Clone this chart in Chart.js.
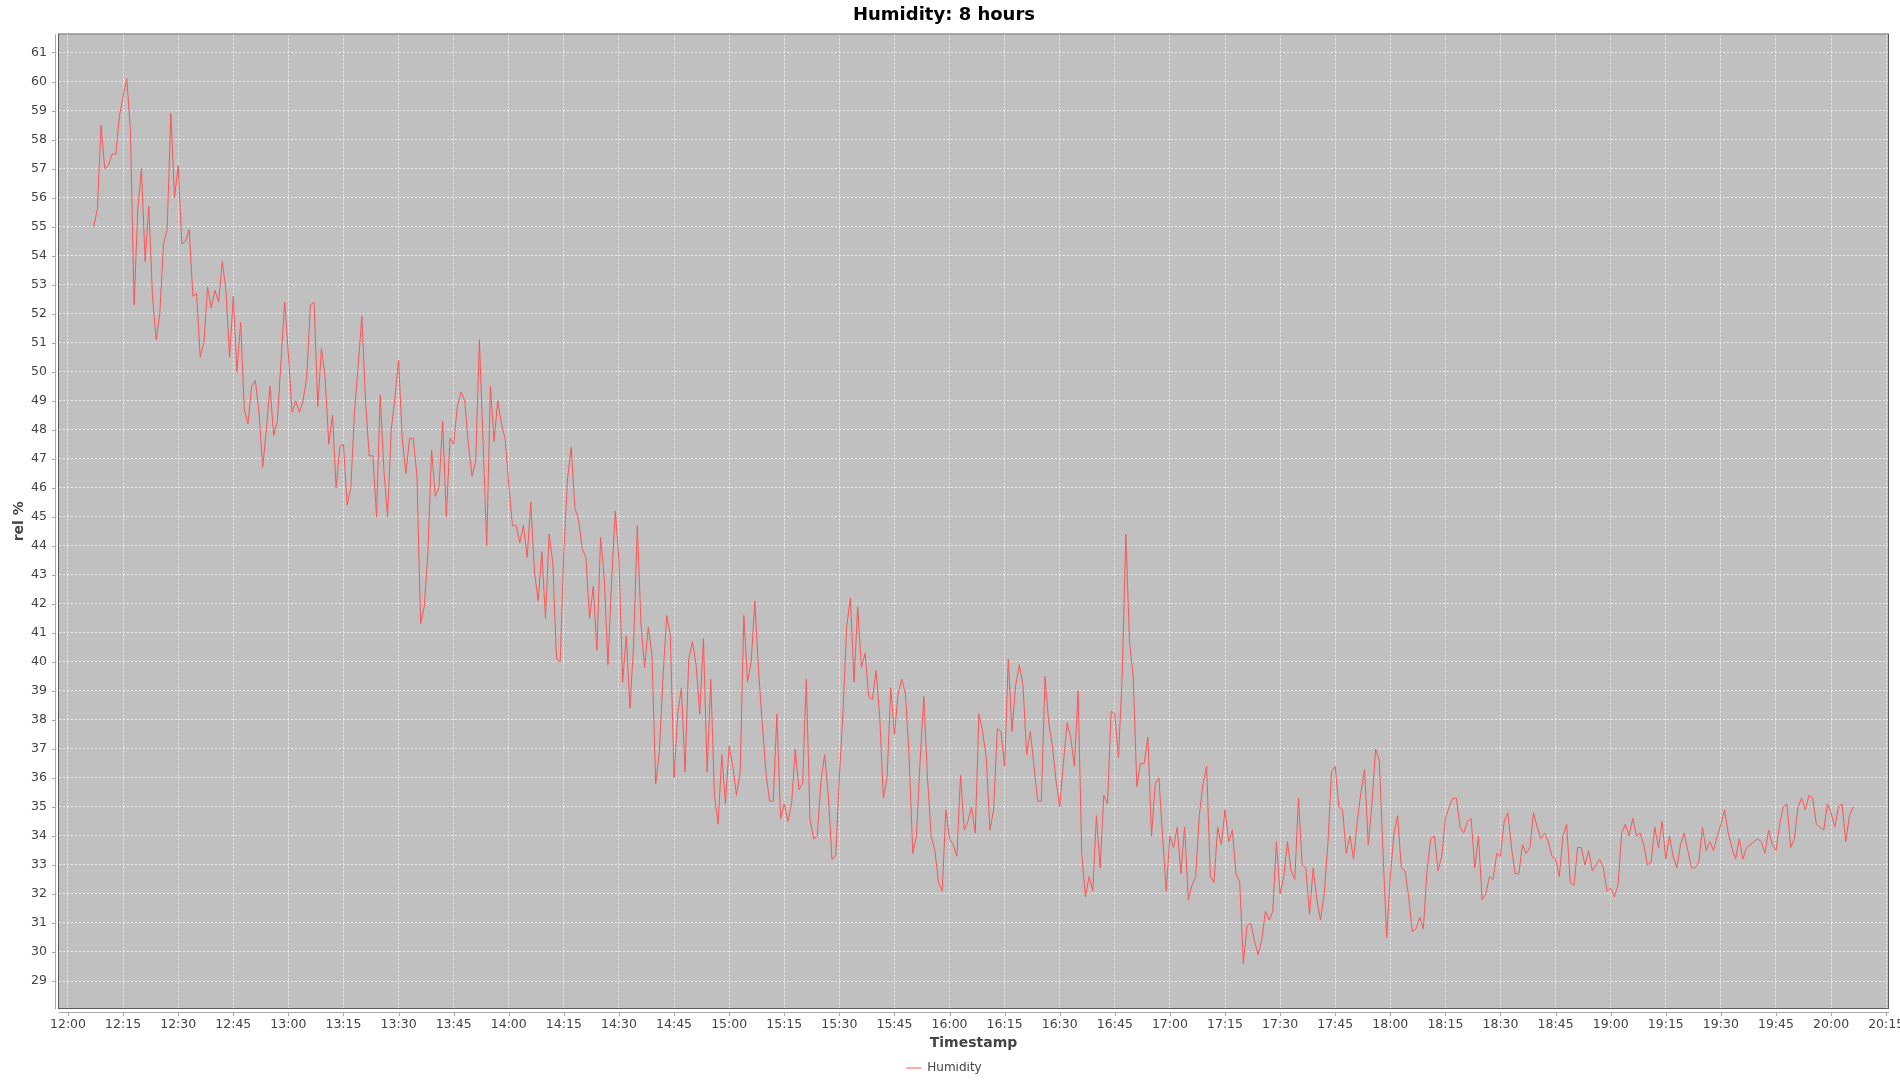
<!DOCTYPE html>
<html>
<head>
<meta charset="utf-8">
<title>Humidity: 8 hours</title>
<style>
  html, body { margin: 0; padding: 0; background: #ffffff; }
  #wrap { width: 1900px; height: 1080px; }
</style>
</head>
<body>
<div id="wrap"><canvas id="humChart" width="1900" height="1080"></canvas></div>

<script src="https://cdn.jsdelivr.net/npm/chart.js"></script>
<script>
  // samples are one minute apart, first one at 12:07
  const START_MINUTE = 7;

  const hum12 = [55.0, 55.6, 58.5, 57.0, 57.1, 57.5, 57.5, 58.8, 59.5, 60.1, 58.3, 52.3, 55.6, 57.0, 53.8, 55.7, 52.6, 51.1, 52.0, 54.4,
                 54.9, 58.9, 56.0, 57.1, 54.4, 54.5, 54.9, 52.6, 52.7, 50.5, 51.0, 52.9, 52.2, 52.8, 52.4, 53.8, 52.8, 50.5, 52.6, 50.0,
                 51.7, 48.7, 48.2, 49.5, 49.7, 48.6, 46.7, 48.0, 49.5, 47.8, 48.3, 50.4, 52.4];
  const hum13 = [50.6, 48.6, 49.0, 48.6, 49.0, 49.8, 52.3, 52.4, 48.8, 50.8, 49.8, 47.5, 48.5, 46.0, 47.4, 47.5, 45.4, 46.0, 48.6, 50.2,
                 51.9, 49.0, 47.1, 47.1, 45.0, 49.2, 46.6, 45.0, 48.0, 49.1, 50.4, 47.7, 46.5, 47.7, 47.7, 46.4, 41.3, 41.9, 43.8, 47.3,
                 45.7, 46.0, 48.3, 45.0, 47.7, 47.5, 48.8, 49.3, 49.0, 47.5, 46.4, 46.9, 51.1, 47.6, 44.0, 49.5, 47.6, 49.0, 48.2, 47.7];
  const hum14 = [46.1, 44.7, 44.7, 44.1, 44.7, 43.6, 45.5, 43.1, 42.1, 43.8, 41.5, 44.4, 43.4, 40.1, 40.0, 43.8, 46.3, 47.4, 45.3, 44.9,
                 43.9, 43.6, 41.5, 42.6, 40.4, 44.3, 42.9, 39.9, 42.8, 45.2, 43.5, 39.3, 40.9, 38.4, 40.6, 44.7, 41.3, 39.8, 41.2, 40.2,
                 35.8, 36.9, 39.5, 41.6, 40.9, 36.0, 38.2, 39.1, 36.2, 40.1, 40.7, 39.9, 38.2, 40.8, 36.2, 39.4, 35.4, 34.4, 36.8, 35.1];
  const hum15 = [37.1, 36.4, 35.4, 36.2, 41.6, 39.3, 40.0, 42.1, 39.7, 37.9, 36.2, 35.2, 35.2, 38.2, 34.6, 35.1, 34.5, 35.1, 37.0, 35.6,
                 35.8, 39.4, 34.6, 33.9, 34.0, 35.9, 36.8, 35.4, 33.2, 33.3, 36.0, 38.3, 41.2, 42.2, 39.3, 41.9, 39.8, 40.3, 38.8, 38.7,
                 39.7, 38.1, 35.3, 36.0, 39.1, 37.5, 38.9, 39.4, 38.9, 36.7, 33.4, 34.0, 36.6, 38.8, 36.0, 34.0, 33.5, 32.4, 32.1, 34.9];
  const hum16 = [33.9, 33.7, 33.3, 36.1, 34.2, 34.5, 35.0, 34.1, 38.2, 37.6, 36.7, 34.2, 34.9, 37.7, 37.6, 36.4, 40.1, 37.6, 39.2, 39.9,
                 39.2, 36.8, 37.6, 36.4, 35.2, 35.2, 39.5, 37.9, 37.1, 35.9, 35.0, 36.5, 37.9, 37.4, 36.4, 39.0, 33.4, 31.9, 32.6, 32.1,
                 34.7, 32.9, 35.4, 35.1, 38.3, 38.2, 36.7, 39.5, 44.4, 40.7, 39.5, 35.7, 36.5, 36.5, 37.4, 34.0, 35.8, 36.0, 34.0, 32.1];
  const hum17 = [34.0, 33.6, 34.3, 32.7, 34.3, 31.8, 32.3, 32.6, 34.7, 35.8, 36.4, 32.6, 32.4, 34.3, 33.7, 34.9, 33.8, 34.2, 32.7, 32.4,
                 29.6, 30.9, 31.0, 30.4, 29.9, 30.4, 31.4, 31.1, 31.4, 33.8, 32.0, 32.6, 33.8, 32.8, 32.5, 35.3, 33.0, 32.9, 31.3, 32.9,
                 31.8, 31.1, 32.0, 33.7, 36.2, 36.4, 35.0, 34.9, 33.4, 34.0, 33.2, 34.5, 35.5, 36.3, 33.7, 35.1, 37.0, 36.6, 33.5, 30.5];
  const hum18 = [32.6, 34.1, 34.7, 32.9, 32.8, 31.9, 30.7, 30.8, 31.2, 30.8, 32.8, 33.9, 34.0, 32.8, 33.3, 34.6, 35.0, 35.3, 35.3, 34.3,
                 34.1, 34.5, 34.6, 32.9, 34.0, 31.8, 32.0, 32.6, 32.5, 33.4, 33.3, 34.5, 34.8, 33.6, 32.7, 32.7, 33.7, 33.4, 33.6, 34.8,
                 34.3, 33.9, 34.1, 33.8, 33.3, 33.2, 32.6, 34.0, 34.4, 32.4, 32.3, 33.6, 33.6, 33.0, 33.5, 32.8, 33.0, 33.2, 32.9, 32.1];
  const hum19 = [32.2, 31.9, 32.3, 34.1, 34.4, 34.0, 34.6, 34.0, 34.1, 33.7, 33.0, 33.1, 34.3, 33.6, 34.5, 33.2, 34.0, 33.3, 32.9, 33.7,
                 34.1, 33.5, 32.9, 32.9, 33.1, 34.3, 33.5, 33.8, 33.5, 34.0, 34.4, 34.9, 34.1, 33.6, 33.2, 33.9, 33.2, 33.6, 33.7, 33.8,
                 33.9, 33.8, 33.4, 34.2, 33.7, 33.5, 34.4, 35.0, 35.1, 33.6, 33.9, 35.0, 35.3, 34.9, 35.4, 35.3, 34.4, 34.3, 34.2, 35.1];
  const hum20 = [34.8, 34.3, 35.0, 35.1, 33.8, 34.7, 35.0];

  const timeTicks = ['12:00', '12:15', '12:30', '12:45', '13:00', '13:15', '13:30', '13:45', '14:00', '14:15', '14:30', '14:45',
                     '15:00', '15:15', '15:30', '15:45', '16:00', '16:15', '16:30', '16:45', '17:00', '17:15', '17:30', '17:45',
                     '18:00', '18:15', '18:30', '18:45', '19:00', '19:15', '19:30', '19:45', '20:00', '20:15'];

  const humidity = [].concat(hum12, hum13, hum14, hum15, hum16, hum17, hum18, hum19, hum20);
  const points = humidity.map((v, i) => ({ x: START_MINUTE + i, y: v }));

  const FONT = 'DejaVu Sans';
  const AXIS_GREY = '#a8a8a8';

  // grey plot background, dark outline, axis lines set off from the plot like JFreeChart does
  const plotFrame = {
    id: 'plotFrame',
    beforeDraw(chart) {
      const { ctx, chartArea: a } = chart;
      ctx.save();
      ctx.fillStyle = '#c0c0c0';
      ctx.fillRect(a.left, a.top, a.right - a.left, a.bottom - a.top);
      ctx.restore();
    },
    afterDraw(chart) {
      const { ctx, chartArea: a } = chart;
      const xs = chart.scales.x, ys = chart.scales.y;
      ctx.save();
      ctx.lineWidth = 1;
      ctx.strokeStyle = '#5c5c5c';
      ctx.strokeRect(a.left - 0.5, a.top - 0.5, a.right - a.left + 1, a.bottom - a.top + 1);

      ctx.strokeStyle = AXIS_GREY;
      ctx.beginPath();
      ctx.moveTo(a.left - 3.5, a.top);
      ctx.lineTo(a.left - 3.5, a.bottom + 1);
      ctx.moveTo(a.left, a.bottom + 4.5);
      ctx.lineTo(a.right + 1, a.bottom + 4.5);
      ys.ticks.forEach(t => {
        const py = Math.round(ys.getPixelForValue(t.value)) + 0.5;
        ctx.moveTo(a.left - 7, py);
        ctx.lineTo(a.left - 3, py);
      });
      xs.ticks.forEach(t => {
        const px = Math.round(xs.getPixelForValue(t.value)) + 0.5;
        ctx.moveTo(px, a.bottom + 4);
        ctx.lineTo(px, a.bottom + 8);
      });
      ctx.stroke();
      ctx.restore();
    }
  };

  new Chart(document.getElementById('humChart'), {
    type: 'line',
    data: {
      datasets: [{
        label: 'Humidity',
        data: points,
        borderColor: '#ff5555',
        backgroundColor: '#ff5555',
        borderWidth: 1,
        pointRadius: 0,
        tension: 0,
        fill: false
      }]
    },
    options: {
      responsive: false,
      animation: false,
      layout: { padding: { left: 0, right: 12, top: 0, bottom: -4 } },
      scales: {
        x: {
          type: 'linear',
          min: -2.45,
          max: 495.5,
          afterFit: s => { s.height = 54; s.paddingLeft = 0; s.paddingRight = 0; },
          border: { display: false, dash: [2, 2] },
          grid: { color: 'rgba(255,255,255,0.7)', lineWidth: 1, drawTicks: false },
          ticks: {
            stepSize: 15,
            maxTicksLimit: 100,
            includeBounds: false,
            autoSkip: false,
            maxRotation: 0,
            padding: 9.5,
            color: '#444444',
            font: { family: FONT, size: 12.5 },
            callback: v => timeTicks[Math.round(v / 15)] || ''
          },
          title: {
            display: true,
            text: 'Timestamp',
            color: '#444444',
            font: { family: FONT, size: 14, weight: 'bold' },
            padding: { top: 0, bottom: 10.6 }
          }
        },
        y: {
          min: 28.07,
          max: 61.62,
          afterFit: s => { s.width = 59; s.paddingTop = 0; s.paddingBottom = 0; },
          border: { display: false, dash: [2, 2] },
          grid: { color: 'rgba(255,255,255,0.7)', lineWidth: 1, drawTicks: false },
          ticks: {
            stepSize: 1,
            maxTicksLimit: 100,
            includeBounds: false,
            padding: 12,
            color: '#444444',
            font: { family: FONT, size: 12.5 }
          },
          title: {
            display: true,
            text: 'rel %',
            color: '#444444',
            font: { family: FONT, size: 14, weight: 'bold' },
            padding: { top: 11.1, bottom: 0 }
          }
        }
      },
      plugins: {
        title: {
          display: true,
          text: 'Humidity: 8 hours',
          color: '#000000',
          font: { family: FONT, size: 18, weight: 'bold' },
          padding: { top: 4.5, bottom: 8.4 }
        },
        legend: {
          position: 'bottom',
          labels: {
            usePointStyle: true,
            pointStyle: 'line',
            pointStyleWidth: 15,
            padding: 0,
            color: '#444444',
            font: { family: FONT, size: 12 }
          }
        },
        tooltip: { enabled: false }
      }
    },
    plugins: [plotFrame]
  });
</script>
</body>
</html>
